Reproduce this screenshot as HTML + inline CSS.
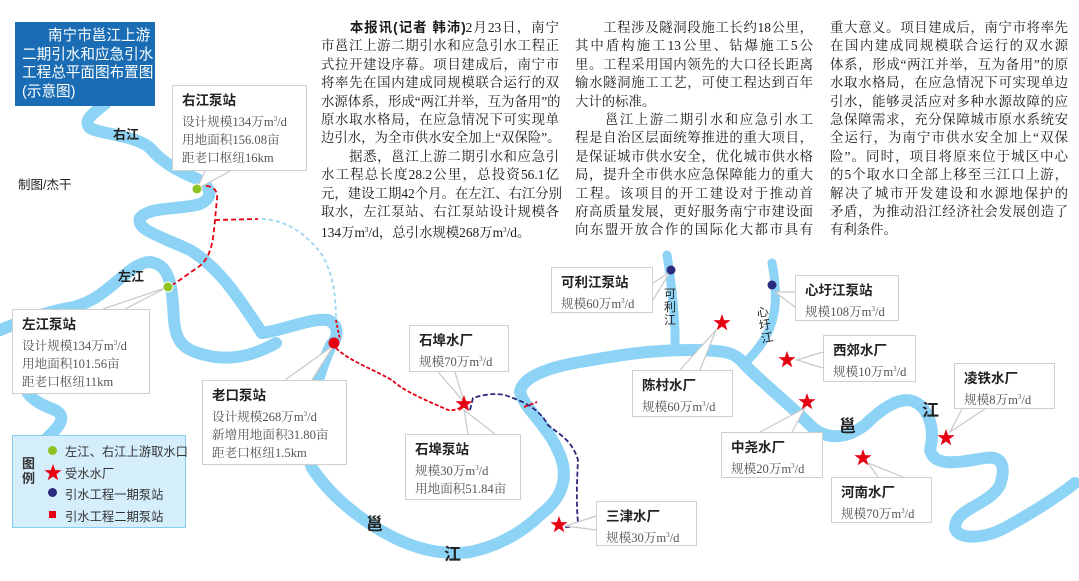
<!DOCTYPE html>
<html><head><meta charset="utf-8">
<style>
*{margin:0;padding:0;box-sizing:border-box}
body{width:1079px;height:581px;background:#fff;position:relative;overflow:hidden;font-family:"Liberation Serif","Noto Serif CJK SC",serif;color:#333}
svg{position:absolute;left:0;top:0}
.col{position:absolute;top:19px;width:238px;font-size:13.4px;line-height:18.4px;color:#1a1a1a}
.col div{white-space:nowrap;text-align:justify;text-align-last:justify;height:18.4px}
.col div.l{text-align-last:left}
.box{position:absolute;background:#fff;border:1.5px solid #cfcfcf;padding:6px 0 0 9px;font-size:12.6px;line-height:18px;color:#555;white-space:nowrap}
.box b{display:block;font-family:"Liberation Sans","Noto Sans CJK SC",sans-serif;font-weight:bold;color:#222;font-size:13.5px;line-height:17px;margin-bottom:1px}
.lab{position:absolute;font-family:"Liberation Sans","Noto Sans CJK SC",sans-serif;font-weight:bold;color:#222;white-space:nowrap}
sup{font-size:7px;vertical-align:5px}
</style></head><body>
<svg width="1079" height="581" viewBox="0 0 1079 581">
<defs><polygon id="st" fill="#e60012" points="0,-9 2.12,-2.91 8.56,-2.78 3.42,1.11 5.29,7.28 0,3.6 -5.29,7.28 -3.42,1.11 -8.56,-2.78 -2.12,-2.91"/></defs>
<g fill="none" stroke="#8dd3f5" stroke-width="12" stroke-linecap="round" stroke-linejoin="round">
<path d="M105,104 C95,112 82,120 90,128 C100,134 135,135 150,148 C160,160 175,170 195,178 C212,186 214,198 200,204 C180,210 150,206 140,218 C136,230 160,236 190,250 C220,268 240,300 262,333"/>
<path d="M45,440 C55,430 70,418 55,410 C35,402 20,395 25,370 C30,330 55,312 80,305 C110,295 130,262 150,262 C172,265 172,290 174,320 C176,345 186,352 215,357 C240,360 260,352 276,343"/>
<path d="M0,330 C20,322 50,310 76,307"/>
<path d="M262,333 C285,330 310,318 328,320 C340,325 338,338 331,345 C315,380 300,440 312,468 C330,495 355,515 380,530 C410,548 440,556 470,552 C500,546 525,530 540,515 C560,500 570,480 560,455 C548,425 525,410 520,392 C522,378 545,368 580,362 C620,355 650,350 690,350 C725,350 735,352 745,365 C765,385 790,405 810,425 C825,440 845,440 865,425 C880,410 900,395 915,402 C930,410 935,430 930,450 C935,468 960,462 985,458 C1005,455 1005,470 1000,485 C990,505 955,508 955,528 C958,540 985,540 1010,525 C1040,508 1060,495 1075,483"/>
<path d="M667,255 C671,280 676,320 675,348" stroke-width="9"/>
<path d="M772,263 C777,290 778,315 765,338 C758,350 752,356 748,360" stroke-width="9"/>
</g>
<g fill="none" stroke-width="1.8">
<path d="M198,187 C210,184 218,188 217,198 L215,220 C213,240 212,258 197,268 C185,276 175,284 168,287" stroke="#e60012" stroke-dasharray="5,3"/>
<path d="M215,220 L258,219" stroke="#e60012" stroke-dasharray="5,3"/>
<path d="M262,219 C285,220 305,232 322,255 C334,275 336,300 336,320" stroke="#9ad6f3" stroke-dasharray="4,3"/>
<path d="M336,320 L340,340" stroke="#e60012" stroke-dasharray="3,2"/>
<path d="M336,348 C350,362 380,372 393,381 C405,392 430,402 448,410 C455,411 460,408 464,406" stroke="#e60012" stroke-dasharray="4,2"/>
<path d="M470,410 L473,398 C485,394 500,392 510,397 C525,402 540,410 548,425 C560,435 572,440 578,460 C577,480 576,500 578,523 C575,527 568,527 565,527" stroke="#2b2a7c" stroke-dasharray="5,2.5"/>
<path d="M524,407 L537,402" stroke="#e60012" stroke-dasharray="4,2"/>
</g>
<g fill="#fff" stroke="#c8c8c8" stroke-width="1.2">
<polyline points="205,171 197,189 230,171"/>
<polyline points="103,309 168,287 125,309"/>
<polyline points="285,380 334,345 312,380"/>
<polyline points="438,372 464,402 455,372"/>
<polyline points="468,434 464,410 495,434"/>
<polyline points="653,283 670,272 653,300"/>
<polyline points="795,292 775,292 795,307"/>
<polyline points="680,370 716,330 700,370"/>
<polyline points="823,352 797,360 823,368"/>
<polyline points="760,432 805,408 792,432"/>
<polyline points="962,409 950,432 985,409"/>
<polyline points="878,477 868,463 903,477"/>
<polyline points="596,516 566,526 596,530"/>
</g>
<circle cx="197" cy="189" r="5" fill="#8fc31f" stroke="#fff" stroke-width="1"/>
<circle cx="168" cy="287" r="5" fill="#8fc31f" stroke="#fff" stroke-width="1"/>
<circle cx="334" cy="343" r="5.5" fill="#e60012"/>
<circle cx="671" cy="270" r="4.5" fill="#2b2a7c"/>
<circle cx="772" cy="285" r="4.5" fill="#2b2a7c"/>
<use href="#st" x="464" y="404"/>
<use href="#st" x="559" y="525"/>
<use href="#st" x="722" y="323"/>
<use href="#st" x="787" y="360"/>
<use href="#st" x="807" y="402"/>
<use href="#st" x="863" y="458"/>
<use href="#st" x="946" y="438"/>
</svg>

<div style="position:absolute;left:15px;top:22px;width:140px;height:84px;background:#1a6db4;color:#fff;font-family:'Liberation Sans','Noto Sans CJK SC',sans-serif;font-size:14.6px;line-height:18.5px;padding:5px 0 0 7px;white-space:nowrap">
<div style="padding-left:26px">南宁市邕江上游</div><div>二期引水和应急引水</div><div>工程总平面图布置图</div><div>(示意图)</div></div>

<div class="lab" style="left:113px;top:124px;font-size:13px">右江</div>
<div class="lab" style="left:118px;top:266px;font-size:13px">左江</div>
<div style="position:absolute;left:18px;top:174px;font-size:12.5px;font-family:'Liberation Sans','Noto Sans CJK SC',sans-serif;color:#222">制图/杰干</div>
<div class="lab" style="left:366px;top:510px;font-size:17px">邕</div>
<div class="lab" style="left:444px;top:540px;font-size:17px">江</div>
<div class="lab" style="left:839px;top:412px;font-size:17px">邕</div>
<div class="lab" style="left:922px;top:396px;font-size:17px">江</div>
<div class="lab" style="left:664px;top:288px;font-size:12px;font-weight:normal;line-height:13px;width:13px;white-space:normal">可利江</div>
<div class="lab" style="left:759px;top:306px;font-size:12px;font-weight:normal;line-height:13px;width:13px;white-space:normal;transform:rotate(-10deg)">心圩江</div>

<div class="box" style="left:172px;top:85px;width:135px;height:86px"><b>右江泵站</b>设计规模134万m<sup>3</sup>/d<br>用地面积156.08亩<br>距老口枢纽16km</div>
<div class="box" style="left:12px;top:309px;width:138px;height:85px"><b>左江泵站</b>设计规模134万m<sup>3</sup>/d<br>用地面积101.56亩<br>距老口枢纽11km</div>
<div class="box" style="left:202px;top:380px;width:145px;height:85px"><b>老口泵站</b>设计规模268万m<sup>3</sup>/d<br>新增用地面积31.80亩<br>距老口枢纽1.5km</div>
<div class="box" style="left:409px;top:325px;width:100px;height:47px"><b>石埠水厂</b>规模70万m<sup>3</sup>/d</div>
<div class="box" style="left:405px;top:434px;width:116px;height:66px"><b>石埠泵站</b>规模30万m<sup>3</sup>/d<br>用地面积51.84亩</div>
<div class="box" style="left:551px;top:267px;width:102px;height:46px"><b>可利江泵站</b>规模60万m<sup>3</sup>/d</div>
<div class="box" style="left:795px;top:275px;width:104px;height:46px"><b>心圩江泵站</b>规模108万m<sup>3</sup>/d</div>
<div class="box" style="left:632px;top:370px;width:101px;height:47px"><b>陈村水厂</b>规模60万m<sup>3</sup>/d</div>
<div class="box" style="left:823px;top:335px;width:93px;height:47px"><b>西郊水厂</b>规模10万m<sup>3</sup>/d</div>
<div class="box" style="left:721px;top:432px;width:102px;height:46px"><b>中尧水厂</b>规模20万m<sup>3</sup>/d</div>
<div class="box" style="left:954px;top:363px;width:101px;height:46px"><b>凌铁水厂</b>规模8万m<sup>3</sup>/d</div>
<div class="box" style="left:831px;top:477px;width:101px;height:46px"><b>河南水厂</b>规模70万m<sup>3</sup>/d</div>
<div class="box" style="left:596px;top:501px;width:101px;height:45px"><b>三津水厂</b>规模30万m<sup>3</sup>/d</div>

<div style="position:absolute;left:12px;top:435px;width:174px;height:93px;background:#d5eefc;border:1.5px solid #86cdf2;font-family:'Liberation Sans','Noto Sans CJK SC',sans-serif;font-size:12.3px;color:#333">
<div style="position:absolute;left:9px;top:20px;width:14px;font-weight:bold;font-size:13px;line-height:15px;white-space:normal">图例</div>
<div style="position:absolute;left:35px;top:10px;width:9px;height:9px;border-radius:50%;background:#8fc31f"></div>
<svg style="position:absolute;left:30px;top:27px" width="20" height="20" viewBox="-10 -10 20 20"><use href="#st"/></svg>
<div style="position:absolute;left:35px;top:52px;width:9px;height:9px;border-radius:50%;background:#2b2a7c"></div>
<div style="position:absolute;left:36px;top:75px;width:7px;height:7px;background:#e60012"></div>
<div style="position:absolute;left:52px;top:6px;white-space:nowrap">左江、右江上游取水口</div>
<div style="position:absolute;left:52px;top:28px">受水水厂</div>
<div style="position:absolute;left:52px;top:49px;white-space:nowrap">引水工程一期泵站</div>
<div style="position:absolute;left:52px;top:71px;white-space:nowrap">引水工程二期泵站</div>
</div>

<div class="col" style="left:321px">
<div><b style="font-family:'Liberation Sans','Noto Sans CJK SC',sans-serif">&#12288;&#12288;本报讯(记者 韩沛)</b>2月23日，南宁</div>
<div>市邕江上游二期引水和应急引水工程正</div>
<div>式拉开建设序幕。项目建成后，南宁市</div>
<div>将率先在国内建成同规模联合运行的双</div>
<div>水源体系，形成“两江并举，互为备用”的</div>
<div>原水取水格局，在应急情况下可实现单</div>
<div class="l">边引水，为全市供水安全加上“双保险”。</div>
<div>&#12288;&#12288;据悉，邕江上游二期引水和应急引</div>
<div>水工程总长度28.2公里，总投资56.1亿</div>
<div>元，建设工期42个月。在左江、右江分别</div>
<div>取水，左江泵站、右江泵站设计规模各</div>
<div class="l">134万m<sup>3</sup>/d，总引水规模268万m<sup>3</sup>/d。</div>
</div>
<div class="col" style="left:575px">
<div>&#12288;&#12288;工程涉及隧洞段施工长约18公里，</div>
<div>其中盾构施工13公里、钻爆施工5公</div>
<div>里。工程采用国内领先的大口径长距离</div>
<div>输水隧洞施工工艺，可使工程达到百年</div>
<div class="l">大计的标准。</div>
<div>&#12288;&#12288;邕江上游二期引水和应急引水工</div>
<div>程是自治区层面统筹推进的重大项目，</div>
<div>是保证城市供水安全，优化城市供水格</div>
<div>局，提升全市供水应急保障能力的重大</div>
<div>工程。该项目的开工建设对于推动首</div>
<div>府高质量发展，更好服务南宁市建设面</div>
<div>向东盟开放合作的国际化大都市具有</div>
</div>
<div class="col" style="left:830px">
<div>重大意义。项目建成后，南宁市将率先</div>
<div>在国内建成同规模联合运行的双水源</div>
<div>体系，形成“两江并举，互为备用”的原</div>
<div>水取水格局，在应急情况下可实现单边</div>
<div>引水，能够灵活应对多种水源故障的应</div>
<div>急保障需求，充分保障城市原水系统安</div>
<div>全运行，为南宁市供水安全加上“双保</div>
<div>险”。同时，项目将原来位于城区中心</div>
<div>的5个取水口全部上移至三江口上游，</div>
<div>解决了城市开发建设和水源地保护的</div>
<div>矛盾，为推动沿江经济社会发展创造了</div>
<div class="l">有利条件。</div>
</div>
</body></html>
